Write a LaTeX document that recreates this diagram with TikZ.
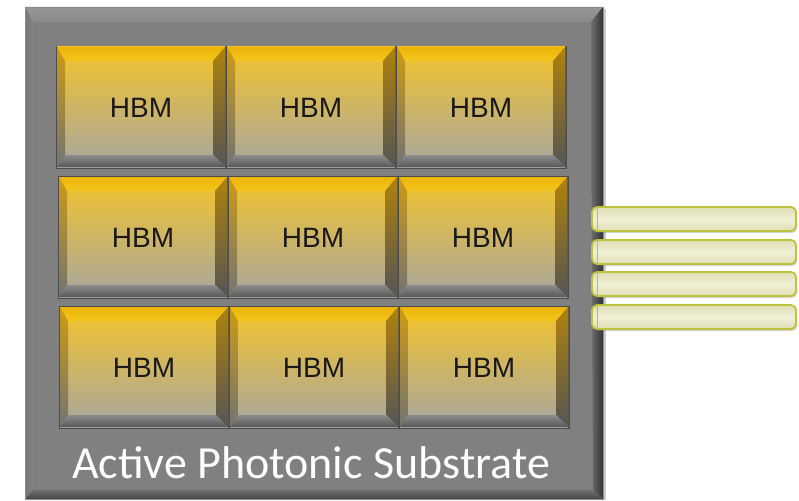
\documentclass[tikz,border=0pt]{standalone}
\usepackage{fontspec}
\setmainfont{Liberation Sans}
\newfontfamily\calib{Carlito}
\usetikzlibrary{shadows}
\definecolor{subface}{RGB}{128,128,128}
\definecolor{subtopA}{RGB}{150,150,150}
\definecolor{subtopB}{RGB}{138,138,138}
\definecolor{subleftA}{RGB}{118,118,118}
\definecolor{subleftB}{RGB}{132,132,132}
\definecolor{subrightA}{RGB}{110,110,110}
\definecolor{subrightB}{RGB}{50,50,50}
\definecolor{subbotA}{RGB}{112,112,112}
\definecolor{subbotB}{RGB}{70,70,70}
\definecolor{faceA}{RGB}{244,196,42}
\definecolor{faceB}{RGB}{222,188,92}
\definecolor{faceC}{RGB}{168,166,160}
\definecolor{tbA}{RGB}{236,180,8}
\definecolor{tbB}{RGB}{255,226,70}
\definecolor{tbC}{RGB}{245,198,30}
\definecolor{lbA}{RGB}{205,155,20}
\definecolor{lbB}{RGB}{115,115,115}
\definecolor{rbA}{RGB}{175,130,10}
\definecolor{rbB}{RGB}{85,85,85}
\definecolor{bbA}{RGB}{140,140,140}
\definecolor{bbB}{RGB}{88,88,88}
\definecolor{fibA}{RGB}{222,222,180}
\definecolor{fibB}{RGB}{240,240,214}
\definecolor{fibEdge}{RGB}{190,194,60}
\tikzset{
  hbmtext/.style={font=\fontsize{28}{30}\selectfont, text=black!90},
  subtext/.style={font=\calib\fontsize{46}{50}\selectfont, text=white},
  fiber/.style={rectangle, rounded corners=5pt, minimum width=204pt, minimum height=24pt,
    top color=fibA, bottom color=fibA, middle color=fibB, draw=fibEdge, line width=1.8pt,
    drop shadow={shadow xshift=1pt, shadow yshift=-2pt, opacity=0.35}, inner sep=0pt}
}
\begin{document}
\begin{tikzpicture}[x=1pt,y=-1pt]
\useasboundingbox (0,0) rectangle (799,500);
% substrate
\fill[black!40, opacity=0.5] (27,9) rectangle (606,500);
\fill[subface] (25,7) rectangle (603,499);
\shade[top color=subtopA, bottom color=subtopB] (25,7) -- (603,7) -- (591,22) -- (33,22) -- cycle;
\shade[left color=subleftA, right color=subleftB] (25,7) -- (33,22) -- (33,490) -- (25,499) -- cycle;
\shade[left color=subrightA, right color=subrightB] (603,7) -- (603,499) -- (593,490) -- (591,22) -- cycle;
\shade[top color=subbotA, bottom color=subbotB] (25,499) -- (603,499) -- (593,490) -- (33,490) -- cycle;
\draw[black!45, line width=0.6pt] (25,7) rectangle (603,499);
% HBM blocks
\foreach \r/\ya/\xo in {0/47/57, 1/177/59, 2/307/60}{
  \foreach \c in {0,1,2}{
    \pgfmathsetmacro{\xa}{\xo+\c*170}
    \pgfmathsetmacro{\xb}{\xa+168}
    \pgfmathsetmacro{\yb}{\ya+120}
    \fill[black!70] (\xa-1,\ya-1) rectangle (\xb+1.5,\yb+2);
    \shade[top color=faceA, middle color=faceB, bottom color=faceC] (\xa,\ya) rectangle (\xb,\yb);
    \shade[top color=tbA, middle color=tbB, bottom color=tbC] (\xa,\ya) -- (\xb,\ya) -- (\xb-12,\ya+14) -- (\xa+8,\ya+14) -- cycle;
    \shade[top color=lbA, bottom color=lbB] (\xa,\ya) -- (\xa+8,\ya+14) -- (\xa+8,\yb-12) -- (\xa,\yb) -- cycle;
    \shade[top color=rbA, bottom color=rbB] (\xb,\ya) -- (\xb,\yb) -- (\xb-12,\yb-12) -- (\xb-12,\ya+14) -- cycle;
    \shade[top color=bbA, bottom color=bbB] (\xa,\yb) -- (\xb,\yb) -- (\xb-12,\yb-12) -- (\xa+8,\yb-12) -- cycle;
    \node[hbmtext] (hbm-\r-\c) at ({(\xa+\xb)/2},{\ya+61}) {HBM};
  }
}
\node[subtext] (label) at (311,463) {Active Photonic Substrate};
% fibers
\foreach \i/\y in {1/219, 2/252, 3/284, 4/317}{
  \node[fiber] (fiber\i) at (694,\y) {};
  \draw[fibEdge, line width=1pt] ([xshift=6pt]fiber\i.north west) -- ([xshift=6pt]fiber\i.south west);
}
\end{tikzpicture}
\end{document}
